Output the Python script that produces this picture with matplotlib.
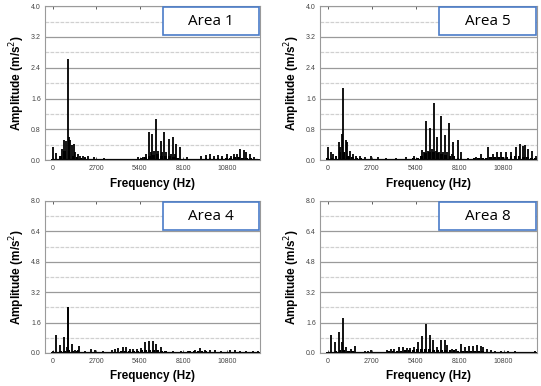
import matplotlib
matplotlib.use("Agg")
from matplotlib import pyplot as plt
from matplotlib.patches import Rectangle
from matplotlib.ticker import MultipleLocator, FixedLocator

plt.rcParams['font.family'] = ['Liberation Sans', 'DejaVu Sans']

# background level of the spectrum, one value per 250 Hz band
floor_hz = list(range(0, 13000, 250))

floor_a1 = [0.04, 0.04, 0.12, 0.25, 0.25, 0.12, 0.08, 0.06, 0.05, 0.04,
            0.03, 0.03, 0.03, 0.02, 0.03, 0.02, 0.02, 0.03, 0.02, 0.03,
            0.03, 0.04, 0.05, 0.08, 0.12, 0.14, 0.15, 0.12, 0.12, 0.10,
            0.08, 0.06, 0.04, 0.03, 0.03, 0.03, 0.04, 0.04, 0.05, 0.05,
            0.05, 0.05, 0.05, 0.06, 0.06, 0.07, 0.07, 0.06, 0.06, 0.05,
            0.04, 0.03]
floor_a5 = [0.05, 0.06, 0.10, 0.20, 0.22, 0.12, 0.08, 0.06, 0.05, 0.04,
            0.03, 0.03, 0.03, 0.02, 0.03, 0.02, 0.02, 0.03, 0.03, 0.03,
            0.04, 0.05, 0.06, 0.12, 0.18, 0.20, 0.20, 0.18, 0.16, 0.14,
            0.12, 0.10, 0.06, 0.04, 0.03, 0.04, 0.05, 0.05, 0.06, 0.06,
            0.07, 0.07, 0.08, 0.08, 0.09, 0.10, 0.10, 0.10, 0.09, 0.08,
            0.06, 0.05]
floor_a4 = [0.05, 0.06, 0.08, 0.12, 0.14, 0.10, 0.08, 0.06, 0.05, 0.04,
            0.04, 0.03, 0.03, 0.04, 0.05, 0.06, 0.07, 0.08, 0.09, 0.10,
            0.11, 0.12, 0.14, 0.16, 0.18, 0.16, 0.14, 0.10, 0.08, 0.07,
            0.07, 0.07, 0.07, 0.07, 0.08, 0.09, 0.09, 0.08, 0.08, 0.07,
            0.07, 0.07, 0.07, 0.06, 0.06, 0.06, 0.06, 0.06, 0.05, 0.05,
            0.05, 0.05]
floor_a8 = [0.05, 0.06, 0.10, 0.14, 0.16, 0.10, 0.08, 0.06, 0.05, 0.05,
            0.05, 0.04, 0.04, 0.05, 0.06, 0.08, 0.10, 0.12, 0.13, 0.14,
            0.16, 0.18, 0.20, 0.22, 0.22, 0.20, 0.18, 0.16, 0.16, 0.15,
            0.14, 0.14, 0.13, 0.12, 0.12, 0.12, 0.12, 0.10, 0.08, 0.07,
            0.06, 0.06, 0.05, 0.05, 0.05, 0.04, 0.04, 0.04, 0.04, 0.04,
            0.04, 0.04]

# dominant spectral lines: frequency (Hz) and amplitude (m/s^2)
peak_hz_a1 = [0, 200, 600, 700, 800, 950, 1000, 1100, 1200, 1300, 1400, 1550,
              1700, 1850, 2000, 2200, 2550, 3200, 3800, 4500, 5300, 5600, 5800,
              5970, 6080, 6180, 6300, 6430, 6550, 6700, 6800, 6920, 7050, 7210,
              7330, 7460, 7560, 7660, 7910, 8300, 9200, 9500, 9750, 10000,
              10250, 10500, 10800, 11050, 11250, 11400, 11600, 11850, 12000,
              12250, 12500]
peak_amp_a1 = [0.33, 0.18, 0.30, 0.53, 0.50, 2.62, 0.60, 0.53, 0.40, 0.42,
               0.20, 0.15, 0.12, 0.10, 0.08, 0.10, 0.07, 0.06, 0.04, 0.04,
               0.07, 0.08, 0.15, 0.73, 0.20, 0.68, 0.25, 1.07, 0.25, 0.50,
               0.20, 0.73, 0.20, 0.56, 0.15, 0.59, 0.15, 0.42, 0.35, 0.08,
               0.10, 0.13, 0.15, 0.12, 0.14, 0.12, 0.17, 0.12, 0.15, 0.17,
               0.30, 0.27, 0.20, 0.15, 0.08]

peak_hz_a5 = [0, 200, 300, 680, 760, 890, 930, 1140, 1200, 1350, 1550, 1750,
              2000, 2300, 2650, 3100, 3600, 4200, 4800, 5300, 5800, 5900, 6020,
              6150, 6270, 6400, 6520, 6620, 6730, 6850, 6980, 7100, 7220, 7350,
              7470, 7600, 7720, 7970, 8180, 8600, 9100, 9420, 9870, 10140,
              10410, 10660, 10970, 11240, 11590, 11800, 12010, 12110, 12320,
              12560, 12770]
peak_amp_a5 = [0.35, 0.20, 0.15, 0.48, 0.33, 0.68, 1.88, 0.52, 0.48, 0.25,
               0.15, 0.12, 0.10, 0.08, 0.10, 0.08, 0.06, 0.05, 0.08, 0.10,
               0.27, 0.20, 1.03, 0.25, 0.83, 0.30, 1.48, 0.25, 0.60, 0.20,
               1.15, 0.22, 0.65, 0.20, 0.96, 0.15, 0.46, 0.52, 0.20, 0.06,
               0.08, 0.15, 0.35, 0.15, 0.20, 0.20, 0.20, 0.20, 0.35, 0.42,
               0.38, 0.40, 0.30, 0.25, 0.12]

peak_hz_a4 = [0, 200, 450, 700, 900, 930, 960, 1170, 1400, 1550, 1650, 2000,
              2350, 2620, 3100, 3650, 3850, 4060, 4330, 4530, 4780, 4990, 5230,
              5480, 5750, 5970, 6220, 6430, 6700, 7050, 7460, 7970, 8380, 8800,
              9100, 9410, 9720, 10090, 10440, 10960, 11270, 11580, 11990,
              12400, 12710]
peak_amp_a4 = [0.09, 0.96, 0.43, 0.83, 0.30, 2.42, 2.42, 0.49, 0.15, 0.15,
               0.38, 0.10, 0.23, 0.17, 0.10, 0.17, 0.20, 0.25, 0.30, 0.30,
               0.20, 0.20, 0.20, 0.25, 0.60, 0.64, 0.64, 0.49, 0.30, 0.10,
               0.10, 0.10, 0.12, 0.15, 0.26, 0.18, 0.15, 0.15, 0.12, 0.15,
               0.14, 0.12, 0.12, 0.10, 0.10]

peak_hz_a8 = [0, 200, 450, 680, 890, 930, 1140, 1410, 1660, 2300, 2450, 2650,
              3620, 3870, 4080, 4350, 4620, 4860, 5070, 5320, 5550, 5800, 6020,
              6250, 6480, 6730, 6980, 7200, 7350, 7650, 7850, 8180, 8400, 8690,
              8900, 9170, 9380, 9520, 9790, 10040, 10290, 10660, 11070, 11480,
              12100, 12720]
peak_amp_a8 = [0.05, 0.96, 0.56, 1.13, 0.60, 1.86, 0.31, 0.20, 0.38, 0.10,
               0.12, 0.15, 0.15, 0.20, 0.23, 0.30, 0.30, 0.28, 0.28, 0.30,
               0.56, 0.90, 1.51, 0.96, 0.66, 0.30, 0.70, 0.70, 0.40, 0.20,
               0.20, 0.49, 0.30, 0.35, 0.35, 0.43, 0.35, 0.30, 0.20, 0.15,
               0.12, 0.10, 0.08, 0.08, 0.06, 0.08]

panels = [
    ("Area 1", floor_a1, peak_hz_a1, peak_amp_a1, 4.0, 0.8),
    ("Area 5", floor_a5, peak_hz_a5, peak_amp_a5, 4.0, 0.8),
    ("Area 4", floor_a4, peak_hz_a4, peak_amp_a4, 8.0, 1.6),
    ("Area 8", floor_a8, peak_hz_a8, peak_amp_a8, 8.0, 1.6),
]

boxes = [
    [45 / 541, 0.585, 215 / 541, 0.399],
    [320 / 541, 0.585, 217 / 541, 0.399],
    [45 / 541, 0.0855, 215 / 541, 0.394],
    [320 / 541, 0.0855, 217 / 541, 0.394],
]

fig = plt.figure(figsize=(5.41, 3.86), dpi=100)

for (name, floor, hz, amp, ymax, step), pos in zip(panels, boxes):
    ax = fig.add_axes(pos)
    # narrow bars for the noise floor, then the tonal lines on top
    ax.bar(floor_hz, floor, width=170, color='black', lw=0)
    ax.vlines(hz, 0, amp, colors='black', lw=1.3)
    ax.hlines(0, 0, 12750, colors='black', lw=1.6)

    ax.set_xlim(-480, 12850)
    ax.set_ylim(0, ymax)
    ax.xaxis.set_major_locator(FixedLocator([0, 2700, 5400, 8100, 10800]))
    ax.yaxis.set_major_locator(MultipleLocator(step))
    ax.yaxis.set_minor_locator(MultipleLocator(step / 2))
    ax.set_yticklabels([f"{v:.1f}" for v in ax.get_yticks()])

    ax.grid(True, which='major', axis='y', color='#9a9a9a', lw=0.9)
    ax.grid(True, which='minor', axis='y', color='#d0d0d0', lw=0.9, ls=(0, (3, 1)))
    ax.set_axisbelow(True)

    ax.tick_params(axis='both', which='major', labelsize=5, colors='#444444',
                   length=2, width=0.6, top=True, direction='in')
    ax.tick_params(axis='y', which='minor', length=0)
    ax.tick_params(axis='y', which='major', length=0, pad=3)
    for s in ax.spines.values():
        s.set_color('#9a9a9a')
        s.set_linewidth(0.8)

    ax.set_xlabel('Frequency (Hz)', fontsize=8.5, fontweight='bold', labelpad=4)
    ax.set_ylabel('Amplitude (m/s$^2$)', fontsize=8.5, fontweight='bold', labelpad=3)

    ax.add_patch(Rectangle((0.549, 0.81), 0.447, 0.185, transform=ax.transAxes,
                           facecolor='white', edgecolor='#4a7cc8', lw=1.2, zorder=5))
    ax.text(0.7725, 0.9, name, transform=ax.transAxes, ha='center', va='center',
            fontsize=11, family=['Open Sans', 'DejaVu Sans'], zorder=6)

fig.savefig('out.png', dpi=100)
